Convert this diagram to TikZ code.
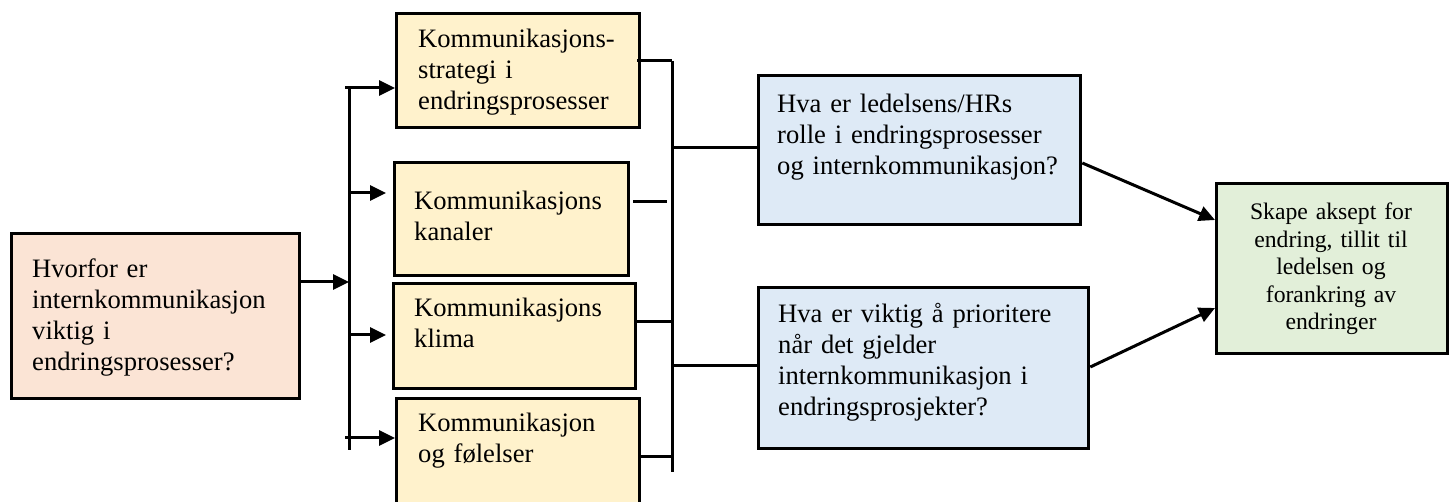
\documentclass[tikz,border=0pt]{standalone}
\usepackage{fontspec}
\setmainfont{Liberation Serif}
\usetikzlibrary{arrows.meta}
\definecolor{pinkfill}{HTML}{FBE4D5}
\definecolor{yellowfill}{HTML}{FFF2CC}
\definecolor{bluefill}{HTML}{DEEAF6}
\definecolor{greenfill}{HTML}{E2EFD9}
\begin{document}
\begin{tikzpicture}[x=1pt,y=-1pt,
  box/.style={draw=black, line width=3.3pt, inner sep=0pt, anchor=north west, rectangle},
  txt/.style={anchor=base west, inner sep=0pt, text width=#1, align=left,
    font=\fontsize{26.6}{30.7}\selectfont},
  gtxt/.style={anchor=base, inner sep=0pt, text width=#1, align=center,
    font=\fontsize{23.7}{27.5}\selectfont},
  conn/.style={line width=3pt},
  arr/.style={line width=3pt, -{Triangle[length=16pt,width=15pt]}}]
\useasboundingbox (0,0) rectangle (1452,502);
\clip (0,0) rectangle (1452,502);

% boxes
\node[box, fill=pinkfill, minimum width=288pt, minimum height=165pt] (pink) at (10,232) {};
\node[box, fill=yellowfill, minimum width=243pt, minimum height=114pt] (y1) at (395,12) {};
\node[box, fill=yellowfill, minimum width=234pt, minimum height=113pt] (y2) at (393,161) {};
\node[box, fill=yellowfill, minimum width=242pt, minimum height=105pt] (y3) at (392,282) {};
\node[box, fill=yellowfill, minimum width=243pt, minimum height=118pt] (y4) at (395,397) {};
\node[box, fill=bluefill, minimum width=322pt, minimum height=149pt] (b1) at (757,74) {};
\node[box, fill=bluefill, minimum width=330pt, minimum height=161pt] (b2) at (757,286) {};
\node[box, fill=greenfill, minimum width=231pt, minimum height=170pt] (g) at (1215,182) {};

% texts
\node[txt=260pt] (pinktxt) at (32,278) {Hvorfor er\\internkommunikasjon\\viktig i\\endringsprosesser?};
\node[txt=215pt] (y1txt) at (418,48) {Kommunikasjons-\\strategi i\\endringsprosesser};
\node[txt=210pt] (y2txt) at (414,210) {Kommunikasjons\\kanaler};
\node[txt=215pt] (y3txt) at (414,317) {Kommunikasjons\\klima};
\node[txt=215pt] (y4txt) at (418,432) {Kommunikasjon\\og følelser};
\node[txt=300pt] (b1txt) at (777,113) {Hva er ledelsens/HRs\\rolle i endringsprosesser\\og internkommunikasjon?};
\node[txt=300pt] (b2txt) at (778,323) {Hva er viktig å prioritere\\når det gjelder\\internkommunikasjon i\\endringsprosjekter?};
\node[gtxt=225pt] (gtxt) at (1331,220) {Skape aksept for\\endring, tillit til\\ledelsen og\\forankring av\\endringer};

% left bus
\coordinate (Lin) at (349,282);
\coordinate (Ltop) at (349,88);
\coordinate (Lbot) at (349,450);
\coordinate (L1) at (345,88);
\coordinate (L2) at (349,193);
\coordinate (L2e) at (386,193);
\coordinate (L3) at (349,335);
\coordinate (L3e) at (386,335);
\coordinate (L4) at (345,438);
\draw[conn] (Ltop) -- (Lbot);
\draw[arr] (pink.east |- Lin) -- (Lin);
\draw[arr] (L1) -- (L1 -| y1.west);
\draw[arr] (L2) -- (L2e);
\draw[arr] (L3) -- (L3e);
\draw[arr] (L4) -- (L4 -| y4.west);

% right bus
\coordinate (Rtop) at (672,61);
\coordinate (Rbot) at (672,472);
\coordinate (R2a) at (633,202);
\coordinate (R2b) at (667,202);
\coordinate (R3) at (672,322);
\coordinate (R4) at (672,457);
\coordinate (RB1) at (672,148);
\coordinate (RB2) at (672,366);
\draw[conn] (Rtop) -- (Rbot);
\draw[conn] ([xshift=-4pt]y1.east |- Rtop) -- (Rtop);
\draw[conn] (R2a) -- (R2b);
\draw[conn] (y3.east |- R3) -- (R3);
\draw[conn] (y4.east |- R4) -- (R4);
\draw[conn] (RB1) -- (RB1 -| b1.west);
\draw[conn] (RB2) -- (RB2 -| b2.west);

% arrows to goal
\coordinate (A1s) at (1079,163);
\coordinate (A1t) at (1215,220);
\coordinate (A2s) at (1087,367);
\coordinate (A2t) at (1215,308);
\draw[arr] (b1.east |- A1s) -- (g.west |- A1t);
\draw[arr] (b2.east |- A2s) -- (g.west |- A2t);
\end{tikzpicture}
\end{document}
